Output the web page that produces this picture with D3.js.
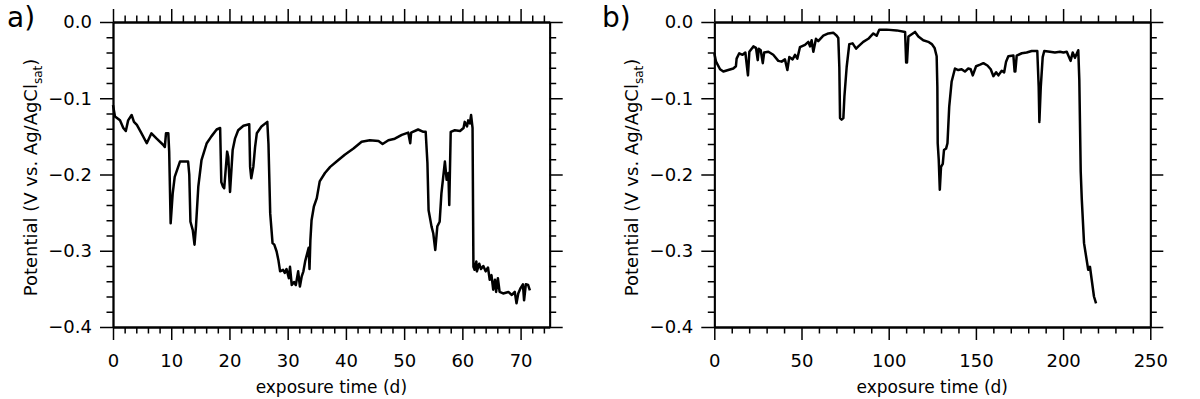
<!DOCTYPE html>
<html>
<head>
<meta charset="utf-8">
<script src="https://cdn.jsdelivr.net/npm/d3@7"></script>
<style>
  body { margin: 0; background: #fff; }
  svg text { font-family: "DejaVu Sans", Verdana, sans-serif; fill: #000; }
  .axis path, .axis line { stroke: #000; }
</style>
</head>
<body>
<div id="chart"></div>
<script>
// panel a) exposure time (d) vs potential (V)
const timeA = [0, 0.34, 1.2, 1.77, 2.2, 2.6, 3.2, 3.6, 4.1, 4.9, 5.8, 6.6, 7.5, 8.6, 8.9, 9.1, 9.5, 9.65, 9.9, 10.25,
  10.6, 11.5, 12.9, 13.1, 13.3, 13.7, 14.0, 14.25, 14.65, 15.2, 16.1, 16.9, 17.8, 18.4, 18.6, 18.9, 19.1, 19.6, 19.8, 20.1,
  20.55, 20.95, 21.5, 22.4, 23.4, 23.55, 23.75, 24.1, 24.4, 24.7, 25.5, 26.5, 26.7, 27.0, 27.4, 27.7, 28.1, 28.4, 28.7, 29.2,
  29.5, 29.8, 30.2, 30.4, 30.7, 31.1, 31.4, 31.8, 32.1, 32.4, 32.7, 33.0, 33.3, 33.6, 33.75, 33.9, 34.1, 34.5, 35.0, 35.5,
  36.4, 37.3, 38.4, 39.8, 41.3, 42.7, 44.1, 45.6, 46.3, 47.3, 48.4, 49.6, 50.7, 51.05, 51.2, 52.4, 53.3, 53.7, 54.0, 54.2,
  54.7, 55.0, 55.35, 55.7, 56.1, 56.4, 57.0, 57.3, 57.6, 57.75, 58.0, 58.7, 59.6, 60.2, 60.4, 60.8, 61.0, 61.3, 61.5, 61.75,
  61.9, 62.1, 62.4, 62.5, 62.9, 63.2, 63.6, 64.0, 64.4, 64.7, 65.0, 65.3, 65.6, 65.8, 66.1, 66.4, 67.0, 67.9, 68.5, 69.0,
  69.3, 69.6, 70.0, 70.4, 70.6, 70.9, 71.3, 71.6];
const potentialA = [-0.109, -0.124, -0.129, -0.139, -0.143, -0.129, -0.122, -0.131, -0.135, -0.146, -0.159, -0.146, -0.153, -0.161, -0.164, -0.146, -0.146, -0.170, -0.264, -0.225,
  -0.203, -0.183, -0.183, -0.200, -0.262, -0.273, -0.292, -0.268, -0.216, -0.181, -0.159, -0.150, -0.141, -0.139, -0.210, -0.216, -0.218, -0.170, -0.177, -0.223,
  -0.168, -0.153, -0.142, -0.136, -0.134, -0.190, -0.205, -0.190, -0.164, -0.146, -0.137, -0.131, -0.160, -0.251, -0.290, -0.292, -0.301, -0.312, -0.327, -0.325,
  -0.329, -0.324, -0.336, -0.321, -0.345, -0.341, -0.345, -0.327, -0.347, -0.334, -0.327, -0.314, -0.305, -0.296, -0.324, -0.286, -0.260, -0.242, -0.231, -0.209,
  -0.198, -0.190, -0.183, -0.174, -0.166, -0.157, -0.155, -0.156, -0.160, -0.155, -0.153, -0.148, -0.145, -0.159, -0.145, -0.141, -0.144, -0.144, -0.185, -0.247,
  -0.268, -0.277, -0.299, -0.268, -0.262, -0.225, -0.183, -0.207, -0.198, -0.240, -0.144, -0.142, -0.143, -0.139, -0.131, -0.137, -0.129, -0.133, -0.122, -0.139,
  -0.321, -0.325, -0.314, -0.327, -0.317, -0.324, -0.320, -0.327, -0.322, -0.338, -0.332, -0.351, -0.338, -0.354, -0.336, -0.354, -0.356, -0.354, -0.358, -0.354,
  -0.369, -0.356, -0.349, -0.344, -0.365, -0.344, -0.345, -0.352];

// panel b)
const timeB = [0, 1.0, 3.3, 5.2, 8.0, 10.9, 12.4, 12.8, 14.3, 16.2, 17.8, 19.3, 20.1, 22.4, 23.9, 24.9, 25.5, 26.6, 27.8, 28.6,
  31.0, 33.8, 36.7, 38.6, 40.5, 41.9, 43.0, 44.9, 46.3, 47.6, 49.1, 52.0, 53.9, 54.9, 55.8, 56.8, 58.3, 59.6, 62.5, 65.4,
  68.2, 70.2, 71.1, 71.7, 72.1, 73.0, 74.0, 74.6, 75.9, 77.4, 79.3, 81.3, 82.6, 85.4, 88.3, 91.2, 93.1, 94.6, 98.8, 104.6,
  109.4, 110.0, 110.5, 111.3, 113.2, 115.1, 117.0, 119.8, 122.7, 124.7, 126.3, 127.5, 127.9, 128.1, 128.7, 129.3, 130.0, 131.0, 131.7, 132.9,
  133.7, 134.7, 136.1, 138.0, 139.9, 141.8, 143.7, 145.6, 147.0, 148.2, 150.1, 152.4, 154.3, 156.6, 158.5, 160.0, 161.6, 162.9, 164.8, 166.2,
  167.3, 168.6, 171.5, 172.2, 172.6, 173.4, 176.3, 179.1, 182.0, 185.2, 186.0, 186.4, 187.2, 188.3, 189.2, 192.4, 195.3, 198.2, 200.2, 202.1,
  204.3, 205.5, 206.8, 208.7, 209.3, 210.1, 210.7, 212.0, 214.4, 215.4, 216.4, 217.7, 218.9];
const potentialB = [-0.041, -0.052, -0.062, -0.065, -0.063, -0.061, -0.058, -0.048, -0.041, -0.043, -0.040, -0.070, -0.039, -0.032, -0.034, -0.050, -0.035, -0.037, -0.054, -0.040,
  -0.039, -0.043, -0.051, -0.052, -0.049, -0.063, -0.046, -0.049, -0.043, -0.048, -0.033, -0.030, -0.026, -0.032, -0.024, -0.039, -0.022, -0.025, -0.018, -0.015,
  -0.014, -0.018, -0.021, -0.060, -0.126, -0.128, -0.126, -0.098, -0.059, -0.029, -0.028, -0.035, -0.032, -0.026, -0.022, -0.015, -0.018, -0.010, -0.010, -0.011,
  -0.013, -0.053, -0.053, -0.019, -0.016, -0.013, -0.019, -0.024, -0.026, -0.029, -0.034, -0.045, -0.085, -0.159, -0.181, -0.220, -0.190, -0.186, -0.168, -0.166,
  -0.159, -0.111, -0.078, -0.061, -0.063, -0.062, -0.065, -0.061, -0.062, -0.070, -0.058, -0.056, -0.054, -0.057, -0.062, -0.071, -0.066, -0.070, -0.064, -0.066,
  -0.052, -0.045, -0.044, -0.065, -0.065, -0.044, -0.041, -0.040, -0.038, -0.038, -0.085, -0.131, -0.085, -0.046, -0.038, -0.039, -0.040, -0.039, -0.040, -0.039,
  -0.051, -0.040, -0.047, -0.037, -0.076, -0.196, -0.232, -0.290, -0.325, -0.321, -0.338, -0.360, -0.369];

// axis ticks
const yMajor = [0, -0.1, -0.2, -0.3, -0.4];
const yMinor = [-0.02, -0.04, -0.06, -0.08, -0.12, -0.14, -0.16, -0.18, -0.22, -0.24, -0.26, -0.28, -0.32, -0.34, -0.36, -0.38];
const xMajorA = [0, 10, 20, 30, 40, 50, 60, 70];
const xMinorA = [2, 4, 6, 8, 12, 14, 16, 18, 22, 24, 26, 28, 32, 34, 36, 38, 42, 44, 46, 48, 52, 54, 56, 58, 62, 64, 66, 68, 72, 74];
const xMajorB = [0, 50, 100, 150, 200, 250];
const xMinorB = [10, 20, 30, 40, 60, 70, 80, 90, 110, 120, 130, 140, 160, 170, 180, 190, 210, 220, 230, 240];

const W = 1200, H = 399;
const svg = d3.select("#chart").append("svg")
    .attr("width", W)
    .attr("height", H);

function drawPanel(p) {
    const x = d3.scaleLinear().domain(p.xDomain).range([p.left, p.right]);
    const y = d3.scaleLinear().domain([-0.4, 0]).range([p.bottom, p.top]);
    const g = svg.append("g");
    const fmtY = d3.format(".1f");
    const fmtX = d3.format("d");

    // minor ticks first, then major ones (with labels) on all four sides
    function addAxis(axisFn, scale, vals, size, transform, labels, fmt, pad) {
        const ax = axisFn(scale).tickValues(vals).tickSizeInner(size).tickSizeOuter(0)
            .tickPadding(pad || 7)
            .tickFormat(labels ? fmt : "");
        const a = g.append("g").attr("class", "axis")
            .attr("transform", transform)
            .call(ax);
        a.selectAll("path").attr("stroke-width", 1.8);
        a.selectAll("line").attr("stroke-width", 1.5);
        a.selectAll("text").attr("font-size", 18).attr("font-family", "DejaVu Sans").attr("fill", "#000");
        return a;
    }
    addAxis(d3.axisBottom, x, p.xMinor, 6.5, `translate(0,${p.bottom})`, false);
    addAxis(d3.axisBottom, x, p.xMajor, 13, `translate(0,${p.bottom})`, true, fmtX, 14);
    addAxis(d3.axisTop, x, p.xMinor, 6.5, `translate(0,${p.top})`, false);
    addAxis(d3.axisTop, x, p.xMajor, 13, `translate(0,${p.top})`, false);
    addAxis(d3.axisLeft, y, yMinor, 6.5, `translate(${p.left},0)`, false);
    addAxis(d3.axisLeft, y, yMajor, 13, `translate(${p.left},0)`, true, fmtY, 8);
    addAxis(d3.axisRight, y, yMinor, 6.5, `translate(${p.right},0)`, false);
    addAxis(d3.axisRight, y, yMajor, 13, `translate(${p.right},0)`, false);

    const pts = p.time.map((t, i) => [t, p.potential[i]]);
    const line = d3.line()
        .x(d => x(d[0]))
        .y(d => y(d[1]));
    g.append("path")
        .attr("d", line(pts))
        .attr("fill", "none")
        .attr("stroke", "#000")
        .attr("stroke-width", 2.5)
        .attr("stroke-linejoin", "round");

    // axis titles
    g.append("text")
        .attr("x", (p.left + p.right) / 2)
        .attr("y", 393)
        .attr("text-anchor", "middle")
        .attr("font-size", 17)
        .text("exposure time (d)");

    const yt = g.append("text")
        .attr("transform", `translate(${p.left - 76},${(p.top + p.bottom) / 2 + 3}) rotate(-90)`)
        .attr("text-anchor", "middle")
        .attr("font-size", 18);
    yt.append("tspan").text("Potential (V vs. Ag/AgCl");
    yt.append("tspan").attr("font-size", 12).attr("dy", 5).text("sat");
    yt.append("tspan").attr("dy", -5).text(")");

    g.append("text")
        .attr("x", p.labelX)
        .attr("y", 27)
        .attr("font-size", 28)
        .text(p.label);
}

drawPanel({
    label: "a)", labelX: 7,
    left: 113, right: 549.7, top: 22, bottom: 327,
    xDomain: [0, 75], xMajor: xMajorA, xMinor: xMinorA,
    time: timeA, potential: potentialA
});
drawPanel({
    label: "b)", labelX: 602,
    left: 714.3, right: 1150.3, top: 22, bottom: 327,
    xDomain: [0, 250], xMajor: xMajorB, xMinor: xMinorB,
    time: timeB, potential: potentialB
});
</script>
</body>
</html>
